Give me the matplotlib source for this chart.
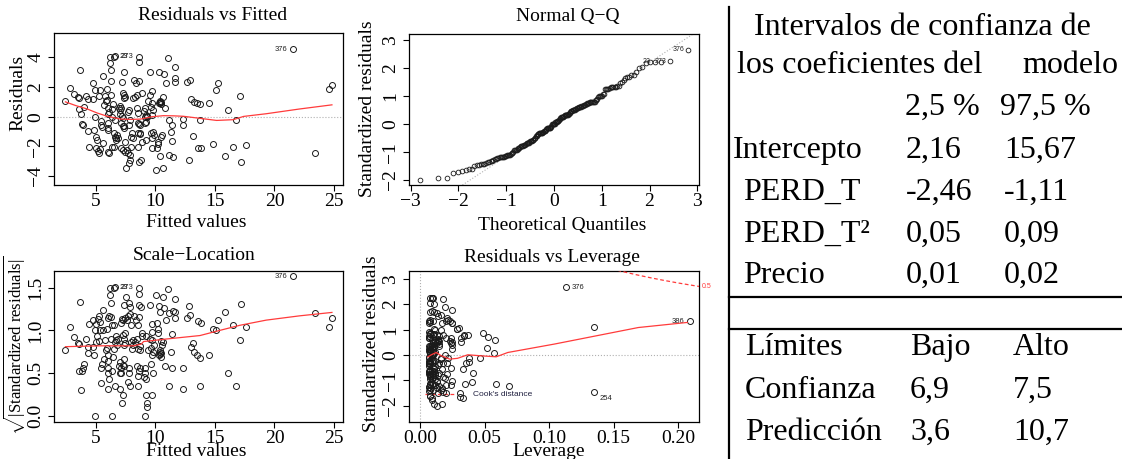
import numpy as np
import matplotlib
matplotlib.use('Agg')
import matplotlib.pyplot as plt
from matplotlib.lines import Line2D
from matplotlib.ticker import FixedLocator, FormatStrFormatter
import matplotlib.transforms as mtransforms
from statistics import NormalDist

plt.rcParams['font.family'] = ['Liberation Serif', 'DejaVu Serif']
plt.rcParams['mathtext.fontset'] = 'custom'
plt.rcParams['mathtext.rm'] = 'Liberation Serif'
plt.rcParams['mathtext.it'] = 'Liberation Serif:italic'
plt.rcParams['axes.unicode_minus'] = True

W, H = 1122, 459

# ---------------- data ----------------
fitted = [2.43, 2.85, 3.18, 3.49, 3.60, 3.63, 3.60, 3.77, 3.83, 3.91,
          4.02, 4.19, 4.33, 4.30, 4.39, 4.75, 4.75, 4.80, 4.89, 4.94,
          5.03, 5.08, 5.03, 5.14, 5.28, 5.36, 5.22, 5.36, 5.42, 5.50,
          5.45, 5.56, 5.59, 5.64, 5.73, 5.87, 5.92, 5.92, 5.98, 6.03,
          5.98, 6.06, 5.98, 6.00, 6.09, 6.03, 6.15, 6.20, 6.28, 6.28,
          6.28, 6.40, 6.34, 6.34, 6.48, 6.62, 6.50, 6.60, 6.68, 6.76,
          6.82, 6.34, 6.62, 6.54, 6.70, 6.90, 7.04, 7.10, 7.00, 7.00,
          7.18, 7.23, 7.18, 7.26, 7.37, 7.37, 7.46, 7.32, 7.12, 7.23,
          7.37, 7.37, 7.46, 7.10, 7.26, 7.40, 7.60, 7.65, 7.51, 7.74,
          7.82, 7.88, 7.68, 7.74, 7.74, 7.88, 7.93, 8.10, 8.02, 7.96,
          8.10, 8.21, 8.30, 8.44, 8.35, 8.44, 8.49, 8.58, 8.58, 8.63,
          8.49, 8.58, 8.66, 8.52, 8.66, 8.72, 8.58, 8.77, 8.52, 8.86,
          8.86, 9.00, 9.08, 9.10, 9.19, 9.25, 9.30, 9.22, 9.08, 9.19,
          9.36, 9.50, 9.60, 9.70, 9.55, 9.70, 9.70, 9.75, 9.60, 9.70,
          9.70, 9.83, 9.89, 10.06, 10.10, 10.20, 10.25, 10.33, 10.30, 10.35,
          10.40, 10.45, 10.38, 10.48, 10.45, 10.53, 10.40, 10.60, 10.67, 10.75,
          10.80, 10.90, 11.03, 11.10, 11.17, 11.30, 11.37, 11.42, 11.45, 11.60,
          11.65, 11.60, 12.30, 12.35, 12.68, 12.90, 12.82, 13.00, 13.20, 13.46,
          13.70, 13.13, 13.55, 13.83, 13.70, 14.53, 14.86, 15.08, 15.28, 15.84,
          16.06, 16.54, 16.76, 17.10, 17.18, 17.60, 21.56, 23.38, 24.55, 24.83]

resid = [1.06, 1.91, 1.51, 1.30, 1.24, 3.15, 0.49, 0.16, -0.49, -0.56,
         0.67, 1.42, 1.17, -0.97, -2.02, 2.25, 1.17, -0.90, 1.80, 0.00,
         -1.35, -1.57, -2.09, -2.31, -2.47, -2.18, 1.39, 1.80, -0.56, -0.67,
         -0.27, 2.74, -1.80, 0.79, 1.42, 1.08, 1.12, 1.84, -0.74, -0.90,
         -2.36, -2.47, -0.45, 0.56, 0.34, 0.18, 4.00, 3.60, 3.15, 2.40,
         1.46, 0.85, 0.49, -2.02, 4.04, 4.07, -1.10, -1.35, -1.42, -1.24,
         -1.46, 0.00, -0.22, -2.02, -1.57, 0.61, 0.72, 0.56, 0.45, 0.18,
         0.04, -0.11, 2.31, 1.62, 1.46, 1.24, 1.30, 3.03, -0.45, -0.63,
         -0.61, -0.79, -1.69, -2.13, -2.25, -2.36, -2.25, -2.47, -3.48, -3.15,
         -2.92, -2.58, 0.29, 0.45, -0.56, -0.22, -1.35, -1.42, -1.12, -2.02,
         1.24, 2.47, 1.35, 1.46, 2.25, 0.61, 0.22, 4.04, 3.66, 2.40,
         -0.40, -0.49, -0.56, -1.12, -1.19, -1.08, -3.03, -2.92, -2.02, 1.57,
         -1.69, 0.38, 0.56, 0.00, 0.11, 0.04, -0.02, -1.57, -0.45, -0.34,
         1.08, 1.46, 0.67, 0.90, 3.03, 1.75, 0.11, 0.45, -1.12, -1.42,
         -2.09, -1.01, -1.24, -3.60, -2.13, -1.87, -1.69, 2.99, 0.90, 1.01,
         0.95, 0.85, 1.06, 0.97, -1.39, -1.24, -2.65, 1.35, -3.48, 2.85,
         0.61, 2.25, 3.93, -0.22, -2.58, -1.01, -1.64, -0.56, -2.70, 3.37,
         2.63, 2.36, -0.18, -0.56, 2.36, 2.47, -2.92, 1.17, 1.01, 0.90,
         0.83, -1.28, -2.13, -2.09, -0.22, 0.90, -1.84, 1.80, 2.25, -2.63,
         0.45, -2.02, -0.22, 1.42, -3.03, -1.91, 4.54, -2.43, 1.84, 2.13]

leverage = [0.058, 0.030, 0.0487, 0.034, 0.0526, 0.025, 0.0520, 0.057, 0.038, 0.036,
            0.025, 0.037, 0.032, 0.033, 0.059, 0.025, 0.020, 0.024, 0.029, 0.019,
            0.021, 0.018, 0.020, 0.017, 0.016, 0.015, 0.018, 0.016, 0.015, 0.014,
            0.016, 0.014, 0.013, 0.015, 0.013, 0.012, 0.014, 0.011, 0.012, 0.011,
            0.013, 0.010, 0.012, 0.011, 0.010, 0.012, 0.010, 0.011, 0.009, 0.010,
            0.011, 0.010, 0.009, 0.010, 0.009, 0.008, 0.009, 0.008, 0.010, 0.009,
            0.008, 0.010, 0.009, 0.009, 0.008, 0.008, 0.009, 0.008, 0.007, 0.008,
            0.008, 0.007, 0.008, 0.007, 0.008, 0.007, 0.008, 0.008, 0.008, 0.007,
            0.008, 0.007, 0.008, 0.008, 0.007, 0.008, 0.007, 0.008, 0.011, 0.009,
            0.008, 0.007, 0.007, 0.008, 0.007, 0.007, 0.007, 0.008, 0.007, 0.008,
            0.007, 0.008, 0.007, 0.008, 0.007, 0.007, 0.008, 0.009, 0.008, 0.007,
            0.007, 0.008, 0.007, 0.008, 0.007, 0.008, 0.009, 0.008, 0.008, 0.008,
            0.009, 0.008, 0.009, 0.009, 0.008, 0.010, 0.009, 0.010, 0.009, 0.010,
            0.009, 0.010, 0.011, 0.010, 0.011, 0.012, 0.011, 0.010, 0.011, 0.012,
            0.012, 0.011, 0.012, 0.013, 0.012, 0.013, 0.012, 0.013, 0.013, 0.014,
            0.012, 0.013, 0.014, 0.015, 0.014, 0.015, 0.014, 0.015, 0.017, 0.016,
            0.015, 0.017, 0.018, 0.016, 0.018, 0.017, 0.019, 0.018, 0.020, 0.019,
            0.021, 0.020, 0.022, 0.021, 0.023, 0.022, 0.031, 0.024, 0.023, 0.025,
            0.024, 0.041, 0.069, 0.024, 0.0466, 0.032, 0.025, 0.029, 0.025, 0.031,
            0.025, 0.035, 0.038, 0.034, 0.033, 0.040, 0.113, 0.135, 0.135, 0.209]

sigma = 1.81          # residual standard error
n_coef = 4            # coefficients in the model
cook_levels = [0.5]

# observation labels shown on the panels: index -> name
labels_resid = {196: '376', 54: '23', 55: '273'}
labels_lev = {196: '376', 199: '386', 197: '254'}

# smoothers
rvf_smooth_x = [2.43, 3.3, 4.27, 5.1, 5.95, 7.07, 8.0, 8.76, 9.7, 10.66,
                11.5, 12.34, 13.74, 15.14, 16.54, 17.4, 19.3, 22.1, 24.83]
rvf_smooth_y = [1.0, 0.75, 0.52, 0.25, 0.03, -0.16, -0.18, -0.16, 0.0, 0.07,
                0.06, 0.03, -0.11, -0.25, -0.2, 0.02, 0.2, 0.52, 0.8]
sl_smooth_x = [2.43, 5.36, 8.16, 8.8, 9.0, 10.95, 13.74, 15.4, 17.1, 19.3, 22.1, 24.83]
sl_smooth_y = [0.81, 0.82, 0.82, 0.84, 0.87, 0.9, 0.94, 1.0, 1.06, 1.12, 1.17, 1.21]
lev_smooth_x = [0.0062, 0.0088, 0.0126, 0.0165, 0.023, 0.029, 0.037, 0.047,
                0.059, 0.068, 0.104, 0.13, 0.169, 0.207]
lev_smooth_y = [-0.07, 0.01, 0.1, -0.03, -0.16, -0.13, 0.01, -0.03,
                -0.07, 0.1, 0.43, 0.69, 1.08, 1.28]

# table
table_title = ['Intervalos de confianza de', 'los coeficientes del', 'modelo']
coef_cols = ['2,5 %', '97,5 %']
coef_names = ['Intercepto', 'PERD_T', 'PERD_T²', 'Precio']
coef_low = ['2,16', '-2,46', '0,05', '0,01']
coef_high = ['15,67', '-1,11', '0,09', '0,02']
lim_header = ['Límites', 'Bajo', 'Alto']
lim_names = ['Confianza', 'Predicción']
lim_low = ['6,9', '3,6']
lim_high = ['7,5', '10,7']

# ---------------- derived ----------------
fitted = np.array(fitted)
resid = np.array(resid)
leverage = np.array(leverage)
std_res = resid / (sigma * np.sqrt(1 - leverage))
n = len(resid)

# ---------------- figure ----------------
fig = plt.figure(figsize=(W / 100, H / 100), dpi=100)


def rect(l, t, r, b):
    return [l / W, 1 - b / H, (r - l) / W, (b - t) / H]


def ftext(x, y, s, **kw):
    fig.text(x / W, 1 - y / H, s, **kw)


TS = 14
PT_COL = '#1a1a1a'
RED = '#ff3b3b'


def style(ax, xt, yt, xfmt=None, yfmt=None):
    for sp in ax.spines.values():
        sp.set_linewidth(0.9)
    ax.xaxis.set_major_locator(FixedLocator(xt))
    ax.yaxis.set_major_locator(FixedLocator(yt))
    if xfmt:
        ax.xaxis.set_major_formatter(FormatStrFormatter(xfmt))
    if yfmt:
        ax.yaxis.set_major_formatter(FormatStrFormatter(yfmt))
    ax.tick_params(direction='out', length=4, width=0.8, labelsize=TS, pad=2)
    ax.tick_params(axis='y', labelrotation=90, pad=3)
    for lab in ax.get_yticklabels():
        lab.set_va('center')


def scatter(ax, x, y):
    ax.plot(x, y, 'o', ms=4.3, mfc='none', mec=PT_COL, mew=0.7, zorder=3)


def idtext(ax, x, y, s, side, dy=0.0):
    off = (-4, dy) if side == 'left' else (4, dy)
    ax.annotate(s, (x, y), xytext=off, textcoords='offset points',
                ha='right' if side == 'left' else 'left', va='center',
                fontsize=5.5, family=['Liberation Sans', 'DejaVu Sans'], color='#222222')


# Panel 1: Residuals vs Fitted
ax1 = fig.add_axes(rect(54, 33, 343, 185))
ax1.set_xlim(1.47, 25.76)
ax1.set_ylim(-4.6, 5.64)
ax1.axhline(0, color='#b0b0b0', ls=':', lw=0.8, zorder=1)
scatter(ax1, fitted, resid)
ax1.plot(rvf_smooth_x, rvf_smooth_y, color=RED, lw=0.9, zorder=4)
mid1 = (fitted.min() + fitted.max()) / 2
for i, s in labels_resid.items():
    idtext(ax1, fitted[i], resid[i], s, 'left' if fitted[i] > mid1 else 'right')
style(ax1, [5, 10, 15, 20, 25], [-4, -2, 0, 2, 4])
ftext(213, 16, 'Residuals vs Fitted', ha='center', va='center', fontsize=TS)
ftext(196, 222, 'Fitted values', ha='center', va='center', fontsize=TS)
ftext(18, 93, 'Residuals', ha='center', va='center', fontsize=TS, rotation=90)

# Panel 2: Normal Q-Q
ax2 = fig.add_axes(rect(409, 34, 699, 185))
ax2.set_xlim(-3.035, 3.035)
ax2.set_ylim(-2.18, 3.23)
order = np.argsort(std_res)
nd = NormalDist()
theo_sorted = np.array([nd.inv_cdf((k + 0.5) / n) for k in range(n)])
theo = np.empty(n)
theo[order] = theo_sorted
q25, q75 = np.quantile(std_res, [0.25, 0.75])
t25, t75 = nd.inv_cdf(0.25), nd.inv_cdf(0.75)
slope = (q75 - q25) / (t75 - t25)
icpt = q25 - slope * t25
ax2.axline((0, icpt), slope=slope, color='#b0b0b0', ls=':', lw=0.8, zorder=1)
ax2.plot(theo, std_res, 'o', ms=3.4, mfc='none', mec=PT_COL, mew=0.6, zorder=3)
for i, s in labels_resid.items():
    ax2.annotate(s, (theo[i], std_res[i]), xytext=(-3, 0), textcoords='offset points',
                 ha='right', va='center', fontsize=5,
                 family=['Liberation Sans', 'DejaVu Sans'], color='#222222')
style(ax2, [-3, -2, -1, 0, 1, 2, 3], [-2, -1, 0, 1, 2, 3])
ftext(568, 17, 'Normal Q−Q', ha='center', va='center', fontsize=TS)
ftext(562, 226, 'Theoretical Quantiles', ha='center', va='center', fontsize=TS)
ftext(367, 109, 'Standardized residuals', ha='center', va='center', fontsize=TS, rotation=90)

# Panel 3: Scale-Location
ax3 = fig.add_axes(rect(54, 271, 343, 422))
ax3.set_xlim(1.47, 25.76)
ax3.set_ylim(-0.07, 1.694)
sl = np.sqrt(np.abs(std_res))
scatter(ax3, fitted, sl)
ax3.plot(sl_smooth_x, sl_smooth_y, color=RED, lw=0.9, zorder=4)
for i, s in labels_resid.items():
    idtext(ax3, fitted[i], sl[i], s, 'left' if fitted[i] > mid1 else 'right')
style(ax3, [5, 10, 15, 20, 25], [0.0, 0.5, 1.0, 1.5], yfmt='%.1f')
ftext(194, 255, 'Scale−Location', ha='center', va='center', fontsize=TS)
ftext(196, 452, 'Fitted values', ha='center', va='center', fontsize=TS)
ftext(15, 345, r'$\sqrt{|\mathrm{Standardized\ residuals}|}$', ha='center', va='center',
      fontsize=12, rotation=90)

# Panel 4: Residuals vs Leverage
ax4 = fig.add_axes(rect(409, 271, 699, 422))
ax4.set_xlim(-0.0085, 0.216)
ax4.set_ylim(-2.63, 3.3)
ax4.axhline(0, color='#b0b0b0', ls=':', lw=0.8, zorder=1)
ax4.axvline(0, color='#b0b0b0', ls=':', lw=0.8, zorder=1)
scatter(ax4, leverage, std_res)
ax4.plot(lev_smooth_x, lev_smooth_y, color=RED, lw=0.9, zorder=4)
hh = np.linspace(0.002, 0.25, 300)
for lvl in cook_levels:
    cy = np.sqrt(lvl * n_coef * (1 - hh) / hh)
    ax4.plot(hh, cy, color=RED, ls=(0, (3, 2)), lw=0.9, zorder=4)
    ax4.plot(hh, -cy, color=RED, ls=(0, (3, 2)), lw=0.9, zorder=4)
    yr = np.sqrt(lvl * n_coef * (1 - 0.216) / 0.216)
    ax4.text(1.01, yr, f'{lvl}', transform=mtransforms.blended_transform_factory(ax4.transAxes, ax4.transData),
             color=RED, fontsize=5, va='center', ha='left', family=['Liberation Sans', 'DejaVu Sans'],
             clip_on=False)
idtext(ax4, leverage[196], std_res[196], labels_lev[196], 'right')
idtext(ax4, leverage[199], std_res[199], labels_lev[199], 'left')
idtext(ax4, leverage[197], std_res[197], labels_lev[197], 'right', dy=-5)
ax4.add_line(Line2D([0.056, 0.158], [0.185, 0.185], transform=ax4.transAxes,
                    color=RED, ls=(0, (3, 2)), lw=0.9))
ax4.text(0.22, 0.185, "Cook's distance", transform=ax4.transAxes, va='center', ha='left',
         fontsize=6, family=['Liberation Sans', 'DejaVu Sans'], color='#202040')
style(ax4, [0.0, 0.05, 0.10, 0.15, 0.20], [-2, -1, 0, 1, 2, 3], xfmt='%.2f')
ftext(552, 258, 'Residuals vs Leverage', ha='center', va='center', fontsize=TS)
ftext(549, 452, 'Leverage', ha='center', va='center', fontsize=TS)
ftext(372, 344, 'Standardized residuals', ha='center', va='center', fontsize=TS, rotation=90)

# ---------------- table ----------------
TF = 23
ftext(922, 35, table_title[0], ha='center', va='baseline', fontsize=TF)
ftext(737, 73, table_title[1], ha='left', va='baseline', fontsize=TF)
ftext(1022, 73, table_title[2], ha='left', va='baseline', fontsize=TF)
ftext(905, 115, coef_cols[0], ha='left', va='baseline', fontsize=TF)
ftext(1000, 115, coef_cols[1], ha='left', va='baseline', fontsize=TF)
row_base = [158, 200, 242, 283]
name_left = [733, 743, 743, 743]
for k in range(len(coef_names)):
    ftext(name_left[k], row_base[k], coef_names[k], ha='left', va='baseline', fontsize=TF)
    ftext(906, row_base[k], coef_low[k], ha='left', va='baseline', fontsize=TF)
    ftext(1004, row_base[k], coef_high[k], ha='left', va='baseline', fontsize=TF)

ftext(745, 355, lim_header[0], ha='left', va='baseline', fontsize=TF)
ftext(910, 355, lim_header[1], ha='left', va='baseline', fontsize=TF)
ftext(1013, 355, lim_header[2], ha='left', va='baseline', fontsize=TF)
for k, base in enumerate([398, 440]):
    ftext(745, base, lim_names[k], ha='left', va='baseline', fontsize=TF)
    ftext(910, base, lim_low[k], ha='left', va='baseline', fontsize=TF)
    ftext(1013, base, lim_high[k], ha='left', va='baseline', fontsize=TF)


def fline(x0, y0, x1, y1, lw=1.6):
    fig.add_artist(Line2D([x0 / W, x1 / W], [1 - y0 / H, 1 - y1 / H],
                          transform=fig.transFigure, color='black', lw=lw))


fline(729, 7, 729, 459)
fline(729, 297, 1122, 297)
fline(729, 329, 1122, 329)

fig.savefig('out.png', dpi=100)
